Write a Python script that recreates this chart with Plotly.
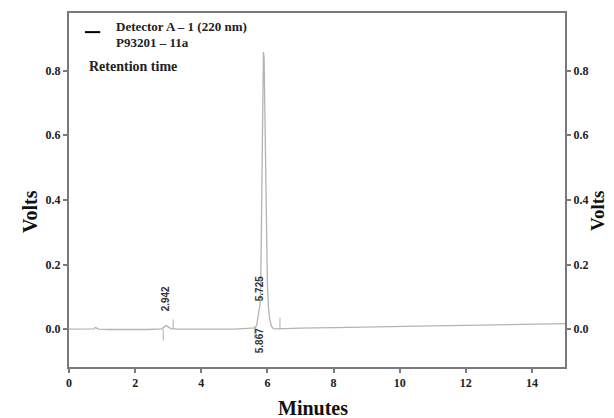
import plotly.graph_objects as go

# Chromatogram trace (minutes, volts)
time_min = [0.0, 0.3, 0.6, 0.75, 0.8, 0.85, 0.9, 1.2, 1.8, 2.4, 2.8, 2.88, 2.94, 3.0, 3.08,
            3.3, 3.8, 4.4, 5.0, 5.5, 5.64, 5.68, 5.72, 5.75, 5.78, 5.80, 5.82, 5.84, 5.86,
            5.88, 5.90, 5.92, 5.94, 5.96, 5.98, 6.00, 6.03, 6.07, 6.12, 6.18, 6.25, 6.5,
            7.0, 8.0, 9.0, 10.0, 11.0, 12.0, 13.0, 14.0, 15.0]
volts = [0.0, 0.0, 0.0, 0.001, 0.005, 0.002, 0.0, -0.001, -0.002, -0.001, 0.001, 0.008,
         0.011, 0.007, 0.002, 0.0, -0.001, 0.0, 0.0, 0.002, 0.004, 0.015, 0.040, 0.055,
         0.080, 0.15, 0.30, 0.50, 0.72, 0.857, 0.84, 0.70, 0.50, 0.33, 0.22, 0.14, 0.07,
         0.03, 0.01, 0.002, 0.001, 0.002, 0.003, 0.005, 0.006, 0.008, 0.010, 0.012,
         0.013, 0.015, 0.017]

# Integration event marks
event_time = [2.85, 3.15, 5.62, 6.38]
event_low = [-0.035, 0.0, -0.03, 0.0]
event_high = [0.0, 0.03, 0.01, 0.035]

# Peak retention-time labels
peak_labels = ["2.942", "5.725", "5.867"]
peak_x = [2.92, 5.76, 5.76]
peak_y = [0.094, 0.125, -0.036]

x_ticks = [0, 2, 4, 6, 8, 10, 12, 14]
y_ticks = [0.0, 0.2, 0.4, 0.6, 0.8]

serif = "Liberation Serif"
axis_col = "#7a7a7a"
trace_col = "#b4b4b4"

ev_x, ev_y = [], []
for t, lo, hi in zip(event_time, event_low, event_high):
    ev_x += [t, t, None]
    ev_y += [lo, hi, None]

fig = go.Figure()
fig.add_trace(go.Scatter(x=time_min, y=volts, mode="lines",
                         line=dict(color=trace_col, width=1.3), showlegend=False))
fig.add_trace(go.Scatter(x=ev_x, y=ev_y, mode="lines",
                         line=dict(color=trace_col, width=1.1), showlegend=False))
fig.add_trace(go.Scatter(x=[None], y=[None], yaxis="y2", showlegend=False))

for txt, px, py in zip(peak_labels, peak_x, peak_y):
    fig.add_annotation(x=px, y=py, text="<b>" + txt + "</b>", textangle=-90, showarrow=False,
                       xanchor="center", yanchor="middle",
                       font=dict(family="Liberation Sans", size=10, color="#333"))

# legend-like header
fig.add_shape(type="line", xref="paper", yref="paper", x0=0.032, x1=0.063, y0=0.946, y1=0.946,
              line=dict(color="black", width=2))
fig.add_annotation(xref="paper", yref="paper", x=0.091, y=0.963, xanchor="left", yanchor="middle",
                   text="<b>Detector A – 1 (220 nm)</b>", showarrow=False,
                   font=dict(family=serif, size=13, color="#222"))
fig.add_annotation(xref="paper", yref="paper", x=0.091, y=0.918, xanchor="left", yanchor="middle",
                   text="<b>P93201 – 11a</b>", showarrow=False,
                   font=dict(family=serif, size=13, color="#222"))
fig.add_annotation(xref="paper", yref="paper", x=0.036, y=0.85, xanchor="left", yanchor="middle",
                   text="<b>Retention time</b>", showarrow=False,
                   font=dict(family=serif, size=14, color="#222"))

# axis titles
title_font = dict(family=serif, size=20, color="#111")
fig.add_annotation(xref="paper", yref="paper", x=-0.079, y=0.44, text="<b>Volts</b>",
                   textangle=-90, showarrow=False, xanchor="center", yanchor="middle",
                   font=title_font)
fig.add_annotation(xref="paper", yref="paper", x=1.064, y=0.44, text="<b>Volts</b>",
                   textangle=-90, showarrow=False, xanchor="center", yanchor="middle",
                   font=dict(family=serif, size=19, color="#111"))
fig.add_annotation(xref="paper", yref="paper", x=0.492, y=-0.116, text="<b>Minutes</b>",
                   showarrow=False, xanchor="center", yanchor="middle", font=title_font)

tickfont = dict(family=serif, size=12, color="#222", weight="bold")
common = dict(ticks="outside", ticklen=4, tickwidth=1.5, tickcolor=axis_col, showline=True,
              linecolor=axis_col, linewidth=2, showgrid=False, zeroline=False,
              tickfont=tickfont, automargin=False)
fig.update_layout(
    width=606, height=410,
    margin=dict(l=61, r=49, t=5, b=51),
    paper_bgcolor="white", plot_bgcolor="white",
    xaxis=dict(range=[0, 15], tickvals=x_ticks, mirror=True, **common),
    yaxis=dict(range=[-0.117, 0.978], tickvals=y_ticks, tickformat=".1f", **common),
    yaxis2=dict(overlaying="y", side="right", matches="y", range=[-0.117, 0.978],
                tickvals=y_ticks, tickformat=".1f", **common),
)

fig.write_html("out.html")
